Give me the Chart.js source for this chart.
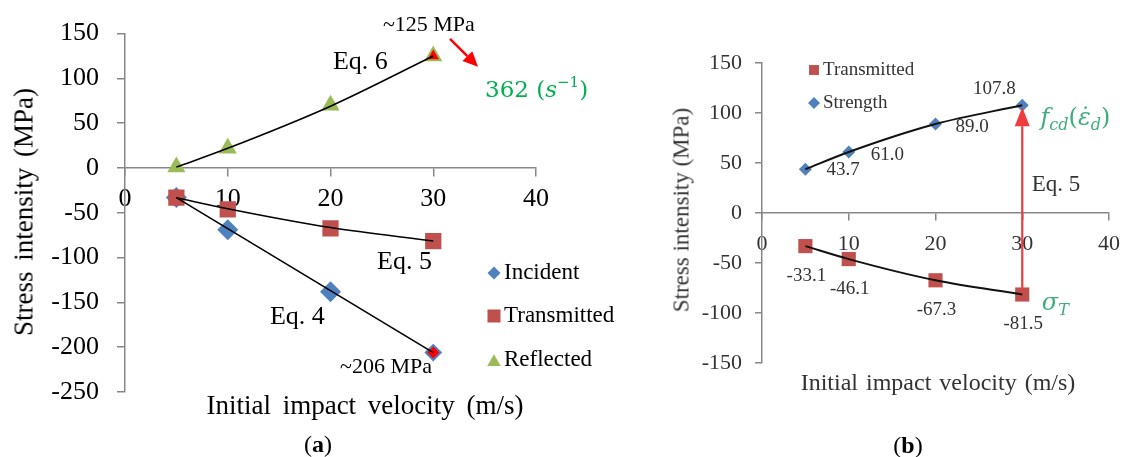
<!DOCTYPE html>
<html><head><meta charset="utf-8">
<script src="https://cdn.jsdelivr.net/npm/chart.js@4.4.0/dist/chart.umd.min.js"></script>
<style>
html,body{margin:0;padding:0;background:#fff;width:1131px;height:457px;overflow:hidden;}
#wa{position:absolute;left:0;top:0;width:660px;height:457px;}
#wb{position:absolute;left:660px;top:0;width:471px;height:457px;}
.t{position:absolute;font-family:"Liberation Serif","Times New Roman",serif;white-space:nowrap;color:#000;transform:translate(-50%,-50%);line-height:1;}
.r{transform:translate(-50%,-50%) rotate(-90deg);}
</style></head><body>
<div id="wa"><canvas id="ca"></canvas></div>
<div id="wb"><canvas id="cb"></canvas></div>
<div class="t r" style="left:24px;top:212px;font-size:27px;word-spacing:4px;">Stress intensity (MPa)</div>
<div class="t" style="left:365px;top:405px;font-size:27px;word-spacing:5px;">Initial impact velocity (m/s)</div>
<div class="t" style="left:318px;top:444px;font-size:24px;">(<b>a</b>)</div>
<div class="t r" style="left:681px;top:210px;font-size:23px;color:#333;">Stress intensity (MPa)</div>
<div class="t" style="left:938px;top:382px;font-size:24px;word-spacing:2px;color:#333;">Initial impact velocity (m/s)</div>
<div class="t" style="left:908px;top:445px;font-size:24px;">(<b>b</b>)</div>
<script>
// ---------- data ----------
const velocities = [5, 10, 20, 30];
// panel (a)
const incidentA = [-33, -69, -138, -206];
const transmittedA = [-33.1, -46.1, -67.3, -81.5];
const reflectedA = [1, 22, 70, 125];
const incidentFitA = [-33, -67.6, -136.8, -206];
const transmittedFitA = [-33.1, -45.5, -66.5, -81.5];
const reflectedFitA = [1, 22, 69, 125];
// panel (b)
const strengthB = [43.7, 61.0, 89.0, 107.8];
const transmittedB = [-33.1, -46.1, -67.3, -81.5];
const strengthLabelsB = ['43.7', '61.0', '89.0', '107.8'];
const transmittedLabelsB = ['-33.1', '-46.1', '-67.3', '-81.5'];
const legendA = ['Incident', 'Transmitted', 'Reflected'];
const legendB = ['Transmitted', 'Strength'];

const SERIF = '"Liberation Serif","Times New Roman",serif';
const MATH = '"DejaVu Serif",serif';
const BLUE = '#4F81BD', RED = '#C0504D', GREEN = '#9BBB59', AXIS = '#878787';
const pts = (ys) => velocities.map((v, i) => ({x: v, y: ys[i]}));

function txt(ctx, s, x, y, font, color, align) {
  ctx.save(); ctx.font = font; ctx.fillStyle = color; ctx.textAlign = align || 'left';
  ctx.textBaseline = 'middle'; ctx.fillText(s, x, y); ctx.restore();
}
function rich(ctx, parts, x, y, color) {
  ctx.save(); ctx.fillStyle = color; ctx.textBaseline = 'alphabetic'; ctx.textAlign = 'left';
  let cx = x;
  for (const [t, f, dy] of parts) { ctx.font = f; ctx.fillText(t, cx, y + (dy || 0)); cx += ctx.measureText(t).width; }
  ctx.restore();
}
function arrow(ctx, x1, y1, x2, y2, color, lw, hl, hw) {
  const a = Math.atan2(y2 - y1, x2 - x1);
  const bx = x2 - hl * Math.cos(a), by = y2 - hl * Math.sin(a);
  ctx.save(); ctx.strokeStyle = color; ctx.fillStyle = color; ctx.lineWidth = lw;
  ctx.beginPath(); ctx.moveTo(x1, y1); ctx.lineTo(bx, by); ctx.stroke();
  ctx.beginPath(); ctx.moveTo(x2, y2);
  ctx.lineTo(bx + hw / 2 * Math.sin(a), by - hw / 2 * Math.cos(a));
  ctx.lineTo(bx - hw / 2 * Math.sin(a), by + hw / 2 * Math.cos(a));
  ctx.closePath(); ctx.fill(); ctx.restore();
}
function scaleOpts(min, max, font, color, tl, padX, padY, yWidth) {
  const grid = {drawOnChartArea: false, drawTicks: true, tickLength: tl, color: AXIS, lineWidth: 1.5};
  const border = {color: AXIS, width: 1.5};
  return {
    x: {type: 'linear', min: 0, max: 40, position: {y: 0},
        ticks: {stepSize: 10, font: {family: SERIF, size: font}, color: color, padding: padX, maxRotation: 0},
        grid: grid, border: border},
    y: {type: 'linear', min: min, max: max,
        ticks: {stepSize: 50, font: {family: SERIF, size: font}, color: color, padding: padY},
        grid: grid, border: border,
        afterFit: (s) => { s.width = yWidth; }}
  };
}

// ---------- chart (a) ----------
const annA = {
  id: 'annA',
  afterDatasetsDraw(chart) {
    const ctx = chart.ctx, xs = chart.scales.x, ys = chart.scales.y;
    const X = v => xs.getPixelForValue(v), Y = v => ys.getPixelForValue(v);
    const f26 = '26px ' + SERIF;
    txt(ctx, 'Eq. 6', X(20.24), Y(117.7), f26, '#000');
    txt(ctx, 'Eq. 5', X(24.53), Y(-105.2), f26, '#000');
    txt(ctx, 'Eq. 4', X(14.11), Y(-166.4), f26, '#000');
    txt(ctx, '~125 MPa', X(25.1), Y(158.9), '22px ' + SERIF, '#000');
    txt(ctx, '~206 MPa', X(29.88), Y(-222.2), '22px ' + SERIF, '#000', 'right');
    arrow(ctx, X(31.63), Y(144.0), X(34.36), Y(113.1), '#FF0000', 2.5, 15, 14);
    rich(ctx, [['362 (', '23px ' + MATH], ['s', 'italic 23px ' + MATH], ['\u22121', '15px ' + MATH, -10], [')', '23px ' + MATH]],
      X(35.04), Y(88.7) + 8, '#00B050');
    // legend
    const items = chart.data.datasets.filter(d => !d.fit);
    const rows = [273, 316, 360];
    legendA.forEach((n, i) => {
      const d = items.find(e => e.label === n);
      ctx.save(); ctx.fillStyle = d.backgroundColor;
      Chart.helpers.drawPoint(ctx, {pointStyle: d.pointStyle, radius: d.legendRadius, rotation: 0, borderWidth: 0}, 494, rows[i] + (d.pointStyle === 'triangle' ? 2 : 0));
      ctx.restore();
      txt(ctx, d.label, 504, rows[i], '23px ' + SERIF, '#000');
    });
  }
};
new Chart(document.getElementById('ca'), {
  type: 'scatter',
  data: {datasets: [
    {label: 'Eq. 4', fit: true, data: pts(incidentFitA), showLine: true, borderColor: '#000', borderWidth: 1.6, pointRadius: 0, order: -3},
    {label: 'Eq. 5', fit: true, data: pts(transmittedFitA), showLine: true, borderColor: '#000', borderWidth: 1.6, pointRadius: 0, cubicInterpolationMode: 'monotone', order: -2},
    {label: 'Eq. 6', fit: true, data: pts(reflectedFitA), showLine: true, borderColor: '#000', borderWidth: 1.6, pointRadius: 0, cubicInterpolationMode: 'monotone', order: -1},
    {label: 'Incident', data: pts(incidentA), pointStyle: 'rectRot', pointRadius: [10.5, 10.5, 10.5, 7.5], legendRadius: 6.5,
     backgroundColor: BLUE, borderColor: BLUE, pointBackgroundColor: [BLUE, BLUE, BLUE, '#FF0000'], pointBorderColor: BLUE, pointBorderWidth: [0, 0, 0, 2], order: 2},
    {label: 'Transmitted', data: pts(transmittedA), pointStyle: 'rect', pointRadius: 11.5, legendRadius: 9.2,
     backgroundColor: RED, borderColor: RED, pointBackgroundColor: RED, pointBorderWidth: 0, order: 1},
    {label: 'Reflected', data: pts(reflectedA), pointStyle: 'triangle', pointRadius: [10.5, 10.5, 10.5, 8.5], legendRadius: 7.8,
     backgroundColor: GREEN, borderColor: GREEN, pointBackgroundColor: [GREEN, GREEN, GREEN, '#FF0000'], pointBorderColor: GREEN, pointBorderWidth: [0, 0, 0, 2], order: 3}
  ]},
  options: {
    responsive: true, maintainAspectRatio: false, animation: false, events: [],
    layout: {padding: {left: 0, top: 33, right: 124, bottom: 65}},
    scales: scaleOpts(-250, 150, 26, '#000', 8, 8, 18, 125),
    plugins: {legend: {display: false}, tooltip: {enabled: false}}
  },
  plugins: [annA]
});

// ---------- chart (b) ----------
const annB = {
  id: 'annB',
  afterDatasetsDraw(chart) {
    const ctx = chart.ctx, xs = chart.scales.x, ys = chart.scales.y;
    const X = v => xs.getPixelForValue(v), Y = v => ys.getPixelForValue(v);
    const fl = '19px ' + SERIF, col = '#333';
    // data labels
    const offS = [[21, 1, 'left'], [22, 3, 'left'], [20, 3, 'left'], [-28, -16, 'center']];
    strengthB.forEach((v, i) => txt(ctx, strengthLabelsB[i], X(velocities[i]) + offS[i][0], Y(v) + offS[i][1], fl, col, offS[i][2]));
    transmittedB.forEach((v, i) => txt(ctx, transmittedLabelsB[i], X(velocities[i]) + 1, Y(v) + 30, fl, col, 'center'));
    // red arrow
    arrow(ctx, X(30), Y(transmittedB[3]) - 4, X(30), Y(strengthB[3]) + 2, '#F03C3C', 2.2, 19, 15);
    txt(ctx, 'Eq. 5', X(31.1), Y(28), '23px ' + SERIF, col);
    const g = '#3DAE7B';
    rich(ctx, [['f', 'italic 24px ' + MATH], ['cd', 'italic 16px ' + MATH, 5], ['(', '24px ' + MATH], ['\u03B5\u0307', 'italic 24px ' + MATH], ['d', 'italic 16px ' + MATH, 5], [')', '24px ' + MATH]],
      X(32.1), Y(96) + 8, g);
    rich(ctx, [['\u03C3', 'italic 24px ' + MATH], ['T', 'italic 16px ' + MATH, 5]], X(32.25), Y(-90) + 7, g);
    // legend
    const items = chart.data.datasets.filter(d => !d.fit);
    const rows = [70, 103];
    legendB.forEach((n, i) => {
      const d = items.find(e => e.label === n);
      ctx.save(); ctx.fillStyle = d.backgroundColor;
      Chart.helpers.drawPoint(ctx, {pointStyle: d.pointStyle, radius: d.legendRadius, rotation: 0, borderWidth: 0}, 154, rows[i]);
      ctx.restore();
      txt(ctx, d.label, 163, rows[i], fl, col);
    });
  }
};
new Chart(document.getElementById('cb'), {
  type: 'scatter',
  data: {datasets: [
    {label: 'fitS', fit: true, data: pts(strengthB), showLine: true, borderColor: '#111', borderWidth: 2, pointRadius: 0, cubicInterpolationMode: 'monotone', order: -2},
    {label: 'fitT', fit: true, data: pts(transmittedB), showLine: true, borderColor: '#111', borderWidth: 2, pointRadius: 0, cubicInterpolationMode: 'monotone', order: -1},
    {label: 'Transmitted', data: pts(transmittedB), pointStyle: 'rect', pointRadius: 10, legendRadius: 7,
     backgroundColor: RED, borderColor: RED, pointBorderWidth: 0, order: 1},
    {label: 'Strength', data: pts(strengthB), pointStyle: 'rectRot', pointRadius: 6.5, legendRadius: 6,
     backgroundColor: BLUE, borderColor: BLUE, pointBorderWidth: 0, order: 2}
  ]},
  options: {
    responsive: true, maintainAspectRatio: false, animation: false, events: [],
    layout: {padding: {left: 0, top: 63, right: 18, bottom: 94}},
    scales: scaleOpts(-150, 150, 22, '#333', 7, 11, 13, 102),
    plugins: {legend: {display: false}, tooltip: {enabled: false}}
  },
  plugins: [annB]
});
</script>
</body></html>
